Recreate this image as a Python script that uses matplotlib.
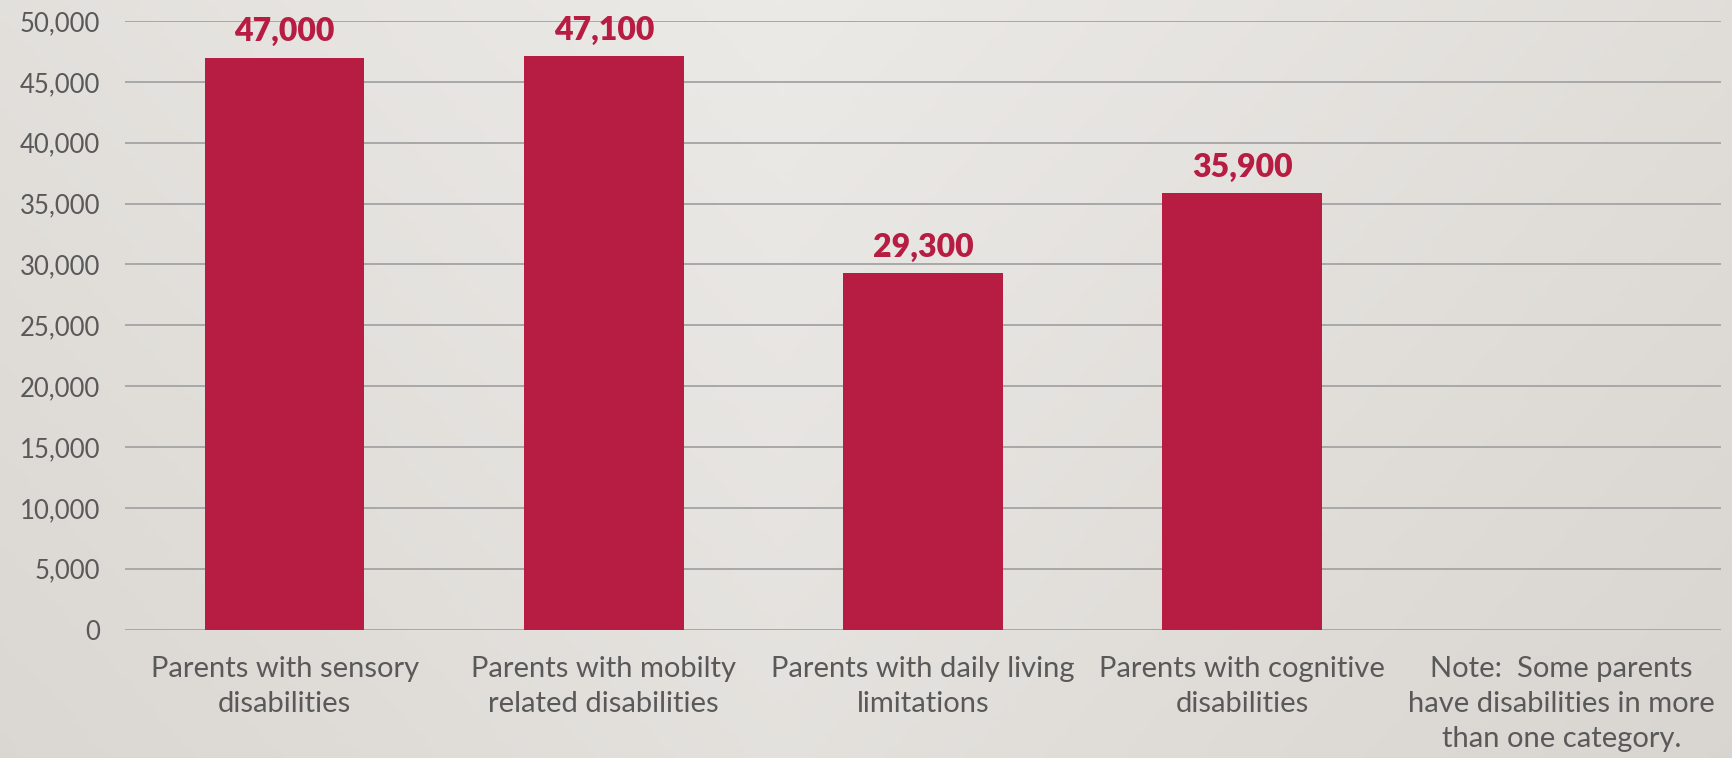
import matplotlib
matplotlib.use("Agg")
import matplotlib.pyplot as plt
import matplotlib.patheffects as pe
import numpy as np

categories = ["Parents with sensory\ndisabilities",
              "Parents with mobilty\nrelated disabilities",
              "Parents with daily living\nlimitations",
              "Parents with cognitive\ndisabilities",
              "Note:  Some parents\nhave disabilities in more\nthan one category."]
values = [47000, 47100, 29300, 35900, None]
value_labels = ["47,000", "47,100", "29,300", "35,900", None]
yticks = list(range(0, 50001, 5000))
ytick_labels = ["{:,}".format(v) for v in yticks]

BAR = "#b71c42"
TXT = "#595959"

plt.rcParams['font.family'] = ['Lato', 'DejaVu Sans']

fig = plt.figure(figsize=(17.32, 7.58), dpi=100)

# background gradient
bg = fig.add_axes([0, 0, 1, 1], zorder=-10)
xx = np.linspace(0, 1, 300)
yy = np.linspace(0, 1, 150)
X, Y = np.meshgrid(xx, yy)
light = np.array([0.925, 0.918, 0.905])
dark = np.array([0.835, 0.820, 0.800])
t = np.clip(0.55 * np.abs(X - 0.45) * 1.6 + 0.35 * Y, 0, 1)
img = light[None, None, :] * (1 - t[..., None]) + dark[None, None, :] * t[..., None]
bg.imshow(img, aspect='auto', extent=[0, 1, 0, 1], origin='upper')
bg.axis('off')

ax = fig.add_axes([0.0722, 0.1694, 0.9214, 0.8029])
ax.patch.set_alpha(0)
x = np.arange(len(categories))
bar_x = [i for i, v in enumerate(values) if v is not None]
bar_v = [v for v in values if v is not None]
bars = ax.bar(bar_x, bar_v, width=0.5, color=BAR, zorder=3,
              path_effects=[pe.SimplePatchShadow(offset=(0, -1), alpha=0.25, shadow_rgbFace='#555555'), pe.Normal()])

for b, lab in zip(bars, [l for l in value_labels if l is not None]):
    ax.annotate(lab, (b.get_x() + b.get_width() / 2, b.get_height()),
                xytext=(0, 8), textcoords='offset points', ha='center', va='bottom',
                fontsize=23, fontweight='heavy', color=BAR)

ax.set_xlim(-0.5, len(categories) - 0.5)
ax.set_ylim(0, 50000)
ax.set_yticks(yticks)
ax.set_yticklabels(ytick_labels)
ax.set_xticks(x)
ax.set_xticklabels(categories, linespacing=1.42)
ax.yaxis.grid(True, color='#a8a8a8', linewidth=1.4, zorder=0)
ax.set_axisbelow(True)
for s in ax.spines.values():
    s.set_visible(False)
ax.tick_params(axis='both', length=0, colors=TXT)
ax.tick_params(axis='y', pad=18, labelsize=18.5)
ax.tick_params(axis='x', pad=19, labelsize=21)

fig.savefig("out.png", dpi=100)
